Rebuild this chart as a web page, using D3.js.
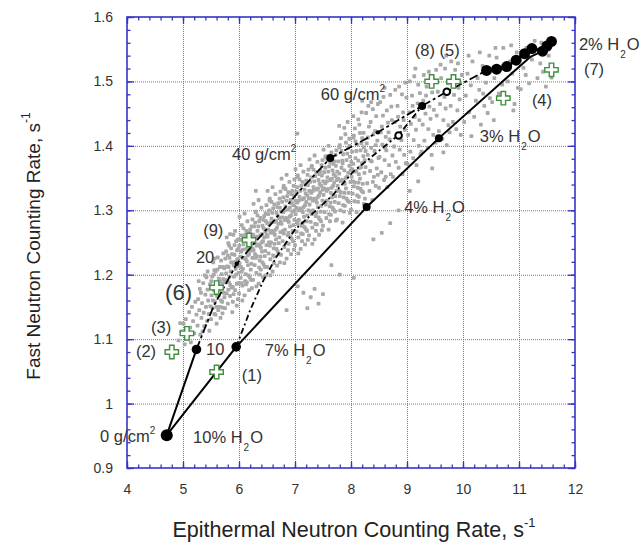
<!DOCTYPE html>
<html><head><meta charset="utf-8">
<script src="https://cdn.jsdelivr.net/npm/d3@7"></script>
<style>
body{margin:0;background:#fff;}
svg{display:block;font-family:"Liberation Sans",Arial,Helvetica,sans-serif;}
</style></head><body>
<svg id="chart" width="644" height="546"></svg>
<script>
// ---------------- DATA ----------------
const xTicks=[4,5,6,7,8,9,10,11,12];
const yTicks=[0.9,1,1.1,1.2,1.3,1.4,1.5,1.6];

const scatterPts=[
[4.92,1.098],[4.97,1.112],[5.01,1.124],[5.05,1.131],[5.08,1.102],[5.11,1.142],[5.13,1.118],[5.16,1.150],[5.18,1.128],[5.20,1.109],[5.22,1.158],[5.24,1.138],[4.95,1.125],[5.03,1.092],[5.14,1.095],
[5.26,1.121],[5.27,1.162],[5.29,1.145],[5.30,1.178],[5.31,1.107],[5.33,1.133],[5.34,1.156],[5.36,1.187],[5.37,1.141],[5.38,1.120],[5.40,1.169],[5.41,1.150],[5.42,1.196],[5.43,1.128],[5.44,1.177],[5.45,1.160],[5.46,1.139],[5.47,1.113],[5.48,1.185],[5.49,1.151],[5.28,1.190],[5.35,1.112],[5.39,1.199],[5.32,1.172],[5.44,1.205],
[5.50,1.131],[5.51,1.168],[5.52,1.197],[5.53,1.148],[5.54,1.219],[5.55,1.176],[5.56,1.139],[5.57,1.158],[5.58,1.205],[5.59,1.186],[5.60,1.124],[5.61,1.167],[5.62,1.227],[5.63,1.145],[5.64,1.194],[5.65,1.178],[5.66,1.212],[5.67,1.133],[5.68,1.160],[5.69,1.201],[5.70,1.186],[5.71,1.149],[5.72,1.233],[5.73,1.172],[5.74,1.210],[5.52,1.182],[5.56,1.207],[5.60,1.150],[5.64,1.168],[5.68,1.222],[5.72,1.193],[5.58,1.138],[5.66,1.190],[5.70,1.158],[5.74,1.165],
[5.505,1.190],[5.535,1.160],[5.565,1.225],[5.595,1.170],[5.625,1.185],[5.655,1.150],[5.685,1.178],[5.715,1.212],[5.745,1.188],[5.545,1.200],[5.615,1.208],[5.705,1.140],
[5.75,1.148],[5.76,1.192],[5.77,1.236],[5.78,1.171],[5.79,1.213],[5.80,1.155],[5.81,1.249],[5.82,1.188],[5.83,1.226],[5.84,1.167],[5.85,1.205],[5.86,1.241],[5.87,1.180],[5.88,1.219],[5.89,1.158],[5.90,1.262],[5.91,1.197],[5.92,1.231],[5.93,1.176],[5.94,1.209],[5.95,1.252],[5.96,1.186],[5.97,1.224],[5.98,1.162],[5.99,1.240],[5.77,1.202],[5.80,1.230],[5.83,1.197],[5.86,1.219],[5.89,1.181],[5.92,1.246],[5.95,1.200],[5.98,1.213],[5.78,1.258],[5.84,1.263],[5.88,1.142],[5.96,1.152],[5.81,1.177],[5.93,1.268],[5.99,1.187],
[5.755,1.225],[5.785,1.190],[5.815,1.212],[5.845,1.184],[5.875,1.232],[5.905,1.170],[5.935,1.220],[5.965,1.238],[5.995,1.203],[5.825,1.245],[5.905,1.215],[5.985,1.255],
[6.00,1.171],[6.01,1.218],[6.02,1.254],[6.03,1.195],[6.04,1.236],[6.05,1.277],[6.06,1.183],[6.07,1.209],[6.08,1.247],[6.09,1.226],[6.10,1.168],[6.11,1.262],[6.12,1.201],[6.13,1.240],[6.14,1.188],[6.15,1.283],[6.16,1.215],[6.17,1.255],[6.18,1.232],[6.19,1.196],[6.20,1.270],[6.21,1.208],[6.22,1.246],[6.23,1.179],[6.24,1.226],[6.02,1.228],[6.05,1.205],[6.08,1.272],[6.11,1.190],[6.14,1.221],[6.17,1.199],[6.20,1.237],[6.23,1.262],[6.04,1.261],[6.13,1.268],[6.19,1.252],[6.22,1.217],[6.07,1.239],[6.16,1.243],[6.01,1.290],[6.10,1.295],[6.24,1.286],[6.06,1.160],[6.18,1.176],[6.12,1.224],
[6.005,1.245],[6.035,1.212],[6.065,1.226],[6.095,1.258],[6.125,1.185],[6.155,1.230],[6.185,1.265],[6.215,1.192],[6.245,1.240],[6.045,1.187],[6.135,1.252],[6.225,1.275],
[6.25,1.192],[6.26,1.238],[6.27,1.275],[6.28,1.215],[6.29,1.257],[6.30,1.298],[6.31,1.203],[6.32,1.229],[6.33,1.268],[6.34,1.247],[6.35,1.186],[6.36,1.283],[6.37,1.222],[6.38,1.261],[6.39,1.208],[6.40,1.304],[6.41,1.236],[6.42,1.276],[6.43,1.252],[6.44,1.216],[6.45,1.291],[6.46,1.229],[6.47,1.267],[6.48,1.199],[6.49,1.246],[6.27,1.249],[6.30,1.226],[6.33,1.292],[6.36,1.211],[6.39,1.242],[6.42,1.219],[6.45,1.258],[6.48,1.283],[6.29,1.281],[6.38,1.288],[6.44,1.272],[6.47,1.237],[6.32,1.259],[6.41,1.263],[6.26,1.310],[6.35,1.316],[6.49,1.308],[6.31,1.182],[6.43,1.196],[6.37,1.245],
[6.255,1.262],[6.285,1.232],[6.315,1.245],[6.345,1.275],[6.375,1.200],[6.405,1.250],[6.435,1.285],[6.465,1.212],[6.495,1.262],[6.295,1.297],[6.385,1.228],[6.475,1.295],
[6.50,1.212],[6.51,1.259],[6.52,1.294],[6.53,1.233],[6.54,1.278],[6.55,1.318],[6.56,1.224],[6.57,1.250],[6.58,1.287],[6.59,1.268],[6.60,1.205],[6.61,1.303],[6.62,1.241],[6.63,1.282],[6.64,1.228],[6.65,1.325],[6.66,1.255],[6.67,1.296],[6.68,1.273],[6.69,1.236],[6.70,1.311],[6.71,1.249],[6.72,1.288],[6.73,1.219],[6.74,1.266],[6.52,1.270],[6.55,1.245],[6.58,1.313],[6.61,1.230],[6.64,1.262],[6.67,1.240],[6.70,1.279],[6.73,1.304],[6.54,1.300],[6.63,1.309],[6.69,1.292],[6.72,1.258],[6.57,1.281],[6.66,1.284],[6.51,1.330],[6.60,1.336],[6.74,1.329],[6.56,1.199],[6.68,1.214],[6.62,1.265],
[6.505,1.280],[6.535,1.250],[6.565,1.265],[6.595,1.296],[6.625,1.218],[6.655,1.270],[6.685,1.305],[6.715,1.232],[6.745,1.282],[6.545,1.315],[6.635,1.248],[6.725,1.318],
[6.75,1.231],[6.76,1.279],[6.77,1.313],[6.78,1.252],[6.79,1.297],[6.80,1.338],[6.81,1.243],[6.82,1.270],[6.83,1.306],[6.84,1.288],[6.85,1.225],[6.86,1.322],[6.87,1.261],[6.88,1.301],[6.89,1.248],[6.90,1.344],[6.91,1.275],[6.92,1.316],[6.93,1.292],[6.94,1.256],[6.95,1.330],[6.96,1.268],[6.97,1.308],[6.98,1.239],[6.99,1.285],[6.77,1.289],[6.80,1.264],[6.83,1.333],[6.86,1.249],[6.89,1.282],[6.92,1.259],[6.95,1.298],[6.98,1.323],[6.79,1.320],[6.88,1.328],[6.94,1.311],[6.97,1.277],[6.82,1.300],[6.91,1.304],[6.76,1.349],[6.85,1.355],[6.99,1.348],[6.81,1.218],[6.93,1.232],[6.87,1.284],
[6.755,1.298],[6.785,1.268],[6.815,1.285],[6.845,1.315],[6.875,1.238],[6.905,1.290],[6.935,1.325],[6.965,1.252],[6.995,1.300],[6.795,1.335],[6.885,1.265],[6.975,1.338],
[7.00,1.246],[7.01,1.294],[7.02,1.329],[7.03,1.267],[7.04,1.312],[7.05,1.354],[7.06,1.258],[7.07,1.285],[7.08,1.321],[7.09,1.303],[7.10,1.240],[7.11,1.338],[7.12,1.276],[7.13,1.317],[7.14,1.263],[7.15,1.360],[7.16,1.290],[7.17,1.332],[7.18,1.308],[7.19,1.271],[7.20,1.346],[7.21,1.283],[7.22,1.323],[7.23,1.254],[7.24,1.300],[7.02,1.304],[7.05,1.279],[7.08,1.348],[7.11,1.264],[7.14,1.297],[7.17,1.274],[7.20,1.313],[7.23,1.339],[7.04,1.336],[7.13,1.344],[7.19,1.326],[7.22,1.292],[7.07,1.315],[7.16,1.319],[7.01,1.364],[7.10,1.370],[7.24,1.363],[7.06,1.233],[7.18,1.247],[7.12,1.300],
[7.005,1.315],[7.035,1.283],[7.065,1.300],[7.095,1.330],[7.125,1.252],[7.155,1.305],[7.185,1.340],[7.215,1.268],[7.245,1.318],[7.045,1.352],[7.135,1.280],[7.225,1.355],
[7.25,1.261],[7.26,1.309],[7.27,1.344],[7.28,1.282],[7.29,1.327],[7.30,1.369],[7.31,1.273],[7.32,1.300],[7.33,1.336],[7.34,1.318],[7.35,1.255],[7.36,1.353],[7.37,1.291],[7.38,1.332],[7.39,1.278],[7.40,1.375],[7.41,1.305],[7.42,1.347],[7.43,1.323],[7.44,1.286],[7.45,1.361],[7.46,1.298],[7.47,1.338],[7.48,1.269],[7.49,1.315],[7.27,1.319],[7.30,1.294],[7.33,1.363],[7.36,1.279],[7.39,1.312],[7.42,1.289],[7.45,1.328],[7.48,1.354],[7.29,1.351],[7.38,1.359],[7.44,1.341],[7.47,1.307],[7.32,1.330],[7.41,1.334],[7.26,1.379],[7.35,1.385],[7.49,1.378],[7.31,1.248],[7.43,1.262],[7.37,1.315],
[7.255,1.330],[7.285,1.298],[7.315,1.315],[7.345,1.345],[7.375,1.268],[7.405,1.320],[7.435,1.356],[7.465,1.283],[7.495,1.332],[7.295,1.367],[7.385,1.296],[7.475,1.370],
[7.50,1.276],[7.51,1.324],[7.52,1.359],[7.53,1.297],[7.54,1.342],[7.55,1.384],[7.56,1.288],[7.57,1.315],[7.58,1.351],[7.59,1.333],[7.60,1.270],[7.61,1.368],[7.62,1.306],[7.63,1.347],[7.64,1.293],[7.65,1.390],[7.66,1.320],[7.67,1.362],[7.68,1.338],[7.69,1.301],[7.70,1.376],[7.71,1.313],[7.72,1.353],[7.73,1.284],[7.74,1.330],[7.52,1.334],[7.55,1.309],[7.58,1.378],[7.61,1.294],[7.64,1.327],[7.67,1.304],[7.70,1.343],[7.73,1.369],[7.54,1.366],[7.63,1.374],[7.69,1.356],[7.72,1.322],[7.57,1.345],[7.66,1.349],[7.51,1.394],[7.60,1.400],[7.74,1.393],
[7.505,1.345],[7.535,1.313],[7.565,1.330],[7.595,1.360],[7.625,1.283],[7.655,1.335],[7.685,1.372],[7.715,1.298],[7.745,1.347],[7.545,1.382],[7.635,1.312],[7.725,1.386],
[7.75,1.286],[7.76,1.338],[7.77,1.376],[7.78,1.311],[7.79,1.357],[7.80,1.401],[7.81,1.300],[7.82,1.328],[7.83,1.366],[7.84,1.347],[7.85,1.281],[7.86,1.387],[7.87,1.320],[7.88,1.362],[7.89,1.307],[7.90,1.418],[7.91,1.334],[7.92,1.378],[7.93,1.352],[7.94,1.315],[7.95,1.397],[7.96,1.327],[7.97,1.369],[7.98,1.296],[7.99,1.344],[7.77,1.349],[7.80,1.322],[7.83,1.392],[7.86,1.308],[7.89,1.341],[7.92,1.318],[7.95,1.358],[7.98,1.383],[7.79,1.431],[7.88,1.428],[7.94,1.437],[7.82,1.412],[7.91,1.405],[7.85,1.373],[7.97,1.411],
[7.755,1.360],[7.785,1.330],[7.815,1.345],[7.845,1.377],[7.875,1.298],[7.905,1.350],[7.935,1.388],[7.965,1.313],[7.995,1.362],[7.795,1.398],[7.885,1.327],[7.975,1.400],
[8.00,1.301],[8.01,1.352],[8.02,1.391],[8.03,1.326],[8.04,1.372],[8.05,1.416],[8.06,1.314],[8.07,1.343],[8.08,1.381],[8.09,1.361],[8.10,1.297],[8.11,1.402],[8.12,1.335],[8.13,1.377],[8.14,1.321],[8.15,1.433],[8.16,1.349],[8.17,1.393],[8.18,1.367],[8.19,1.330],[8.20,1.412],[8.21,1.341],[8.22,1.384],[8.23,1.310],[8.24,1.358],[8.02,1.364],[8.05,1.337],[8.08,1.407],[8.11,1.323],[8.14,1.356],[8.17,1.333],[8.20,1.373],[8.23,1.398],[8.04,1.446],[8.13,1.441],[8.19,1.452],[8.07,1.427],[8.16,1.420],
[8.005,1.375],[8.035,1.345],[8.065,1.360],[8.095,1.392],[8.125,1.313],[8.155,1.366],[8.185,1.404],[8.215,1.328],[8.245,1.378],[8.045,1.413],[8.135,1.343],[8.225,1.420],
[8.25,1.318],[8.26,1.367],[8.28,1.404],[8.29,1.342],[8.30,1.386],[8.32,1.430],[8.33,1.330],[8.34,1.361],[8.36,1.397],[8.37,1.376],[8.38,1.316],[8.40,1.418],[8.41,1.352],[8.42,1.392],[8.44,1.338],[8.45,1.446],[8.46,1.365],[8.47,1.408],[8.49,1.381],[8.27,1.451],[8.31,1.462],[8.35,1.437],[8.39,1.457],[8.43,1.423],[8.48,1.465],[8.26,1.392],[8.35,1.377],[8.44,1.401],[8.30,1.413],[8.39,1.344],[8.48,1.355],[8.36,1.468],
[8.50,1.335],[8.51,1.383],[8.53,1.421],[8.54,1.359],[8.56,1.402],[8.57,1.447],[8.59,1.347],[8.60,1.378],[8.62,1.414],[8.63,1.393],[8.65,1.336],[8.66,1.436],[8.68,1.370],[8.69,1.410],[8.71,1.356],[8.72,1.461],[8.74,1.385],[8.52,1.468],[8.58,1.476],[8.64,1.455],[8.70,1.479],[8.55,1.430],[8.61,1.397],[8.67,1.421],[8.73,1.440],[8.62,1.352],
[8.75,1.352],[8.77,1.399],[8.78,1.437],[8.80,1.375],[8.82,1.418],[8.83,1.462],[8.85,1.366],[8.87,1.394],[8.88,1.430],[8.90,1.409],[8.92,1.356],[8.93,1.452],[8.95,1.386],[8.96,1.425],[8.98,1.373],[8.99,1.475],[8.79,1.487],[8.86,1.492],[8.91,1.480],[8.97,1.498],[8.84,1.445],[8.94,1.440],
[9.01,1.372],[9.02,1.417],[9.04,1.452],[9.06,1.391],[9.07,1.434],[9.09,1.478],[9.11,1.381],[9.12,1.409],[9.14,1.445],[9.16,1.425],[9.17,1.370],[9.19,1.466],[9.21,1.400],[9.22,1.440],[9.24,1.387],[9.05,1.500],[9.13,1.508],[9.20,1.495],[9.10,1.462],[9.23,1.482],
[9.26,1.391],[9.28,1.433],[9.29,1.470],[9.31,1.408],[9.33,1.450],[9.35,1.492],[9.37,1.397],[9.38,1.426],[9.40,1.461],[9.42,1.442],[9.44,1.386],[9.45,1.483],[9.47,1.417],[9.48,1.456],[9.30,1.510],[9.39,1.515],[9.46,1.505],[9.34,1.478],
[9.51,1.405],[9.53,1.447],[9.55,1.484],[9.57,1.423],[9.59,1.465],[9.61,1.505],[9.63,1.411],[9.65,1.440],[9.67,1.476],[9.69,1.458],[9.71,1.401],[9.73,1.497],[9.52,1.518],[9.60,1.526],[9.68,1.520],[9.74,1.432],
[9.76,1.421],[9.78,1.462],[9.80,1.498],[9.82,1.437],[9.84,1.479],[9.86,1.518],[9.88,1.426],[9.90,1.455],[9.92,1.490],[9.94,1.472],[9.96,1.417],[9.98,1.510],[9.79,1.531],[9.91,1.528],
[10.02,1.437],[10.05,1.478],[10.08,1.512],[10.11,1.452],[10.14,1.494],[10.17,1.531],[10.20,1.445],[10.23,1.470],[10.26,1.505],[10.29,1.487],[10.32,1.433],[10.35,1.524],[10.38,1.462],[10.41,1.498],[10.44,1.451],[10.47,1.540],[10.10,1.540],[10.30,1.545],[10.36,1.481],[10.48,1.474],
[10.52,1.468],[10.56,1.505],[10.60,1.537],[10.64,1.481],[10.68,1.520],[10.72,1.552],[10.76,1.476],[10.80,1.500],[10.84,1.531],[10.88,1.512],[10.92,1.465],[10.96,1.545],[10.58,1.552],[10.70,1.495],[10.86,1.556],[10.98,1.490],
[11.03,1.488],[11.08,1.521],[11.13,1.552],[11.18,1.497],[11.23,1.534],[11.28,1.563],[11.33,1.505],[11.38,1.528],[11.43,1.515],[11.48,1.492],[11.53,1.540],[11.58,1.506],[11.12,1.510],[11.40,1.560],
[7.05,1.182],[7.15,1.172],[7.28,1.165],[7.35,1.178],[7.22,1.148],[7.50,1.170],[7.42,1.155],[6.85,1.145],[7.65,1.215],[7.80,1.200],[8.05,1.195],[8.40,1.255],[8.55,1.265],[8.70,1.280],[8.85,1.300],[9.05,1.330],[9.20,1.345],[9.45,1.365],[9.65,1.390],[10.15,1.415],[10.55,1.440],[10.90,1.455],[7.04,1.419],[6.30,1.330],[8.20,1.470],[8.60,1.490],[9.15,1.520],[9.70,1.540]
];

// model curves
const homogeneousLine=[[4.71,0.951],[5.95,1.088],[8.28,1.305],[9.57,1.412],[11.2,1.538],[11.42,1.547]];
const baseSegment=[[4.71,0.951],[5.24,1.084]];
const dryOver10=[[5.24,1.084],[5.54,1.150],[5.96,1.217],[7.09,1.331],[7.63,1.381],[8.48,1.421],[9.27,1.462],[9.71,1.484],[10.42,1.517]];
const dryOver7=[[5.95,1.088],[6.20,1.145],[6.43,1.190],[6.67,1.228],[7.00,1.270],[7.68,1.324],[8.04,1.360],[8.85,1.417],[9.27,1.462]];
const bigDots=[[10.42,1.517],[10.60,1.519],[10.78,1.523],[10.95,1.533],[11.10,1.543],[11.23,1.551],[11.42,1.547],[11.50,1.555],[11.58,1.562]];
const keyDots=[["large",4.71,0.951],["medium",5.24,1.084],["medium",5.95,1.088],["small",8.28,1.305],["small",9.57,1.412],["small",7.63,1.381],["small",9.27,1.462]];
const tinyDots=[[5.96,1.217],[8.48,1.421]];
const openDots=[[8.85,1.416],[9.71,1.484]];

// numbered measurements (green crosses)
const crossPts=[[5.60,1.049],[4.80,1.080],[5.07,1.109],[5.60,1.180],[6.18,1.254],[9.44,1.500],[9.83,1.500],[10.72,1.474],[11.58,1.518]];

// text annotations [text, x, y, kind]
const notes=[
["0 g/cm|2",3.52,0.940,"sup"],
["10% H|2|O",5.18,0.939,"sub"],
["10",5.41,1.075,"plain"],
["7% H|2|O",6.46,1.074,"sub"],
["(1)",6.05,1.035,"plain"],
["(2)",4.16,1.072,"plain"],
["(3)",4.43,1.109,"plain"],
["(6)",4.68,1.160,"big"],
["20",5.23,1.218,"plain"],
["(9)",5.36,1.260,"plain"],
["40 g/cm|2",5.875,1.378,"sup"],
["60 g/cm|2",7.46,1.471,"sup"],
["(8) (5)",9.14,1.539,"plain"],
["2% H|2|O",12.07,1.549,"sub"],
["(7)",12.16,1.510,"plain"],
["(4)",11.23,1.462,"plain"],
["3% H|2|O",10.30,1.406,"sub"],
["4% H|2|O",8.95,1.296,"sub"]
];

// ---------------- DRAW ----------------
const svg=d3.select("#chart");
const x=d3.scaleLinear().domain([4,12]).range([127,575]);
const y=d3.scaleLinear().domain([0.9,1.6]).range([468,17]);
const X0=x(4),X1=x(12),Y0=y(0.9),Y1=y(1.6);
const blue="#3434c8", gridBlue="#6b6bea", txt="#333";

// grid
svg.append("g").attr("transform",`translate(0,${Y0})`)
  .call(d3.axisBottom(x).tickValues(xTicks.slice(1,-1)).tickSize(-(Y0-Y1)).tickFormat(""))
  .call(g=>g.select(".domain").remove())
  .call(g=>g.selectAll("line").attr("stroke",gridBlue).attr("stroke-dasharray","1,1").attr("stroke-width",1));
svg.append("g").attr("transform",`translate(${X0},0)`)
  .call(d3.axisLeft(y).tickValues(yTicks.slice(1,-1)).tickSize(-(X1-X0)).tickFormat(""))
  .call(g=>g.select(".domain").remove())
  .call(g=>g.selectAll("line").attr("stroke",gridBlue).attr("stroke-dasharray","1,1").attr("stroke-width",1));

// scatter cloud
svg.append("g").selectAll("rect").data(scatterPts).join("rect")
  .attr("x",d=>x(d[0])-1.9).attr("y",d=>y(d[1])-1.9).attr("width",3.8).attr("height",3.8)
  .attr("rx",0.9).attr("fill","#a9a9a9");

// lines
const line=d3.line().x(d=>x(d[0])).y(d=>y(d[1]));
const lines=svg.append("g").attr("fill","none").attr("stroke","#000").attr("stroke-linejoin","round");
lines.append("path").attr("d",line(homogeneousLine)).attr("stroke-width",2);
lines.append("path").attr("d",line(baseSegment)).attr("stroke-width",2);
lines.append("path").attr("d",line(dryOver10)).attr("stroke-width",1.8).attr("stroke-dasharray","9,3,3,3");
lines.append("path").attr("d",line(dryOver7)).attr("stroke-width",1.8).attr("stroke-dasharray","6,3,2,3");
lines.append("path").attr("d",line(bigDots)).attr("stroke-width",3);

// dots
const rad={large:6,medium:4.8,small:4};
svg.append("g").selectAll("circle").data(keyDots).join("circle")
  .attr("cx",d=>x(d[1])).attr("cy",d=>y(d[2])).attr("r",d=>rad[d[0]]).attr("fill","#000");
svg.append("g").selectAll("circle").data(bigDots).join("circle")
  .attr("cx",d=>x(d[0])).attr("cy",d=>y(d[1])).attr("r",5.5).attr("fill","#000");
svg.append("g").selectAll("circle").data(tinyDots).join("circle")
  .attr("cx",d=>x(d[0])).attr("cy",d=>y(d[1])).attr("r",2.2).attr("fill","#000");
svg.append("g").selectAll("circle").data(openDots).join("circle")
  .attr("cx",d=>x(d[0])).attr("cy",d=>y(d[1])).attr("r",3.3).attr("fill","#fff").attr("stroke","#000").attr("stroke-width",2);

// crosses
svg.append("g").selectAll("path").data(crossPts).join("path")
  .attr("transform",d=>`translate(${x(d[0])},${y(d[1])})`)
  .attr("d",d3.symbol(d3.symbolCross,100))
  .attr("fill","#fff").attr("stroke","#3f8f3f").attr("stroke-width",1.4);

// frame
svg.append("rect").attr("x",X0).attr("y",Y1).attr("width",X1-X0).attr("height",Y0-Y1)
  .attr("fill","none").attr("stroke",blue).attr("stroke-width",1.6);

// ticks (inward)
function styleAx(g){g.select(".domain").remove();g.selectAll("line").attr("stroke",blue).attr("stroke-width",1.3);}
const minorX=d3.range(4,12.001,0.2).map(v=>+v.toFixed(2));
const minorY=d3.range(0.9,1.6001,0.02).map(v=>+v.toFixed(2));
svg.append("g").attr("transform",`translate(0,${Y0})`).call(d3.axisBottom(x).tickValues(minorX).tickSize(-3.5).tickFormat("")).call(styleAx);
svg.append("g").attr("transform",`translate(0,${Y1})`).call(d3.axisTop(x).tickValues(minorX).tickSize(-3.5).tickFormat("")).call(styleAx);
svg.append("g").attr("transform",`translate(${X0},0)`).call(d3.axisLeft(y).tickValues(minorY).tickSize(-3.5).tickFormat("")).call(styleAx);
svg.append("g").attr("transform",`translate(${X1},0)`).call(d3.axisRight(y).tickValues(minorY).tickSize(-3.5).tickFormat("")).call(styleAx);

const xAx=svg.append("g").attr("transform",`translate(0,${Y0})`)
  .call(d3.axisBottom(x).tickValues(xTicks).tickSize(-7).tickPadding(16).tickFormat(d3.format("~g")));
xAx.call(styleAx);
xAx.selectAll("text").attr("fill",txt).attr("font-size",14).attr("font-family","Liberation Sans, Arial, sans-serif");
const yAx=svg.append("g").attr("transform",`translate(${X0},0)`)
  .call(d3.axisLeft(y).tickValues(yTicks).tickSize(-7).tickPadding(14).tickFormat(d3.format("~g")));
yAx.call(styleAx);
yAx.selectAll("text").attr("fill",txt).attr("font-size",14).attr("font-family","Liberation Sans, Arial, sans-serif");
svg.append("g").attr("transform",`translate(0,${Y1})`).call(d3.axisTop(x).tickValues(xTicks).tickSize(-7).tickFormat("")).call(styleAx);
svg.append("g").attr("transform",`translate(${X1},0)`).call(d3.axisRight(y).tickValues(yTicks).tickSize(-7).tickFormat("")).call(styleAx);

// annotations
const ann=svg.append("g").attr("fill",txt).attr("font-size",16.5);
notes.forEach(([t,nx,ny,kind])=>{
  const el=ann.append("text").attr("x",x(nx)).attr("y",y(ny));
  const parts=t.split("|");
  if(kind==="big"){el.attr("font-size",22).text(t);}
  else if(kind==="plain"){el.text(t);}
  else if(kind==="sup"){
    el.append("tspan").text(parts[0]);
    el.append("tspan").attr("dy",-8).attr("font-size",10).text(parts[1]);
  } else {
    el.append("tspan").text(parts[0]);
    el.append("tspan").attr("dx",1).attr("dy",8).attr("font-size",10).text(parts[1]);
    el.append("tspan").attr("dx",1).attr("dy",-8).text(parts[2]);
  }
});

// axis titles
const xt=svg.append("text").attr("x",354).attr("y",537).attr("text-anchor","middle")
  .attr("font-size",21.5).attr("fill","#222");
xt.append("tspan").text("Epithermal Neutron Counting Rate, s");
xt.append("tspan").attr("dy",-10).attr("font-size",13).text("-1");
const yt=svg.append("text").attr("transform","translate(40,246) rotate(-90)").attr("text-anchor","middle")
  .attr("font-size",19).attr("fill","#222");
yt.append("tspan").text("Fast Neutron Counting Rate, s");
yt.append("tspan").attr("dy",-10).attr("font-size",12).text("-1");
</script>
</body></html>
